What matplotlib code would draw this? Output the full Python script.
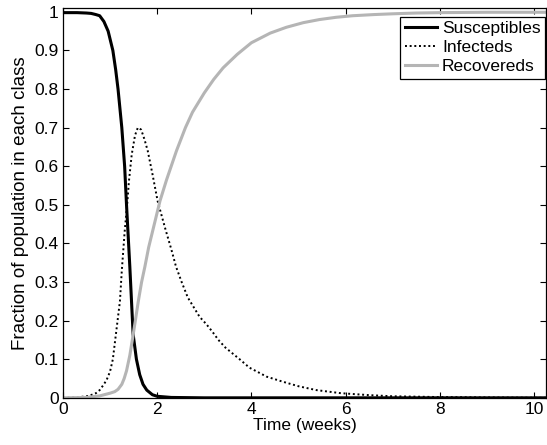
from matplotlib import pyplot as plt
from matplotlib.ticker import FormatStrFormatter

# values (time in weeks, fraction of population)
t_sus = [0, 0.3, 0.5, 0.6, 0.7, 0.78, 0.87, 0.96, 1.06, 1.12, 1.17, 1.21, 1.25, 1.31,
         1.35, 1.42, 1.49, 1.56, 1.63, 1.70, 1.78, 1.9, 2.0, 2.3, 3.0, 10.25]
sus = [0.998, 0.998, 0.997, 0.996, 0.993, 0.99, 0.975, 0.95, 0.90, 0.85, 0.80, 0.75, 0.70,
       0.60, 0.50, 0.34, 0.165, 0.10, 0.06, 0.035, 0.02, 0.008, 0.004, 0.001, 0.0, 0.0]

t_inf = [0, 0.3, 0.55, 0.7, 0.78, 0.87, 0.93, 1.0, 1.06, 1.1, 1.15, 1.21, 1.25, 1.31,
         1.37, 1.40, 1.46, 1.53, 1.59, 1.66, 1.73, 1.80, 1.9, 2.01, 2.1, 2.18, 2.3, 2.4,
         2.52, 2.65, 2.8, 2.9, 3.05, 3.18, 3.3, 3.45, 3.6, 3.75, 3.96, 4.15, 4.32, 4.66,
         5.0, 5.38, 5.9, 6.5, 7.0, 8.0, 9.0, 10.25]
inf = [0.0, 0.001, 0.005, 0.012, 0.02, 0.035, 0.047, 0.068, 0.10, 0.14, 0.19, 0.25, 0.33, 0.43,
       0.51, 0.56, 0.63, 0.68, 0.70, 0.695, 0.67, 0.64, 0.58, 0.51, 0.47, 0.435, 0.385, 0.34,
       0.30, 0.26, 0.23, 0.21, 0.19, 0.17, 0.15, 0.13, 0.115, 0.10, 0.078, 0.066, 0.055, 0.042,
       0.03, 0.02, 0.012, 0.007, 0.004, 0.002, 0.001, 0.0]

t_rec = [0, 0.5, 0.78, 1.0, 1.1, 1.17, 1.25, 1.3, 1.35, 1.42, 1.48, 1.55, 1.6, 1.67,
         1.74, 1.82, 1.9, 2.06, 2.2, 2.41, 2.6, 2.75, 3.0, 3.2, 3.4, 3.7, 4.0, 4.4, 4.74,
         5.1, 5.44, 5.8, 6.15, 6.6, 7.0, 7.5, 8.0, 9.0, 10.25]
rec = [0.0, 0.001, 0.005, 0.012, 0.016, 0.022, 0.035, 0.05, 0.07, 0.11, 0.155, 0.21, 0.25, 0.30,
       0.34, 0.39, 0.43, 0.51, 0.565, 0.64, 0.70, 0.74, 0.79, 0.825, 0.855, 0.89, 0.92, 0.945, 0.96,
       0.972, 0.98, 0.986, 0.99, 0.993, 0.995, 0.997, 0.998, 0.999, 0.999]

x_ticks = [0, 2, 4, 6, 8, 10]
y_ticks = [0, 0.1, 0.2, 0.3, 0.4, 0.5, 0.6, 0.7, 0.8, 0.9, 1]

plt.rcParams['font.family'] = ['Liberation Sans', 'DejaVu Sans']

fig = plt.figure(figsize=(5.47, 4.45), dpi=100)
ax = fig.add_axes([0.115, 0.106, 0.883, 0.876])

ax.plot(t_sus, sus, color='black', linewidth=2.2, label='Susceptibles')
ax.plot(t_inf, inf, color='black', linewidth=1.4, linestyle=(0, (1, 1.4)), label='Infecteds')
ax.plot(t_rec, rec, color='#b5b5b5', linewidth=2.2, label='Recovereds')

ax.set_xlim(0, 10.25)
ax.set_ylim(0, 1.01)
ax.set_xticks(x_ticks)
ax.set_yticks(y_ticks)
ax.yaxis.set_major_formatter(FormatStrFormatter('%g'))
ax.tick_params(direction='in', top=True, right=True, length=4, labelsize=12.5, pad=3)
for s in ax.spines.values():
    s.set_linewidth(0.9)

ax.set_xlabel('Time (weeks)', fontsize=12.5, labelpad=1)
ax.set_ylabel('Fraction of population in each class', fontsize=13.5, labelpad=4)

leg = ax.legend(loc='upper right', bbox_to_anchor=(0.998, 0.977), fontsize=12.5,
                frameon=True, fancybox=False, edgecolor='black', framealpha=1,
                borderpad=0.25, labelspacing=0.22, handlelength=1.85,
                handletextpad=0.3, borderaxespad=0)
leg.get_frame().set_linewidth(0.9)

fig.savefig('out.png', dpi=100)
